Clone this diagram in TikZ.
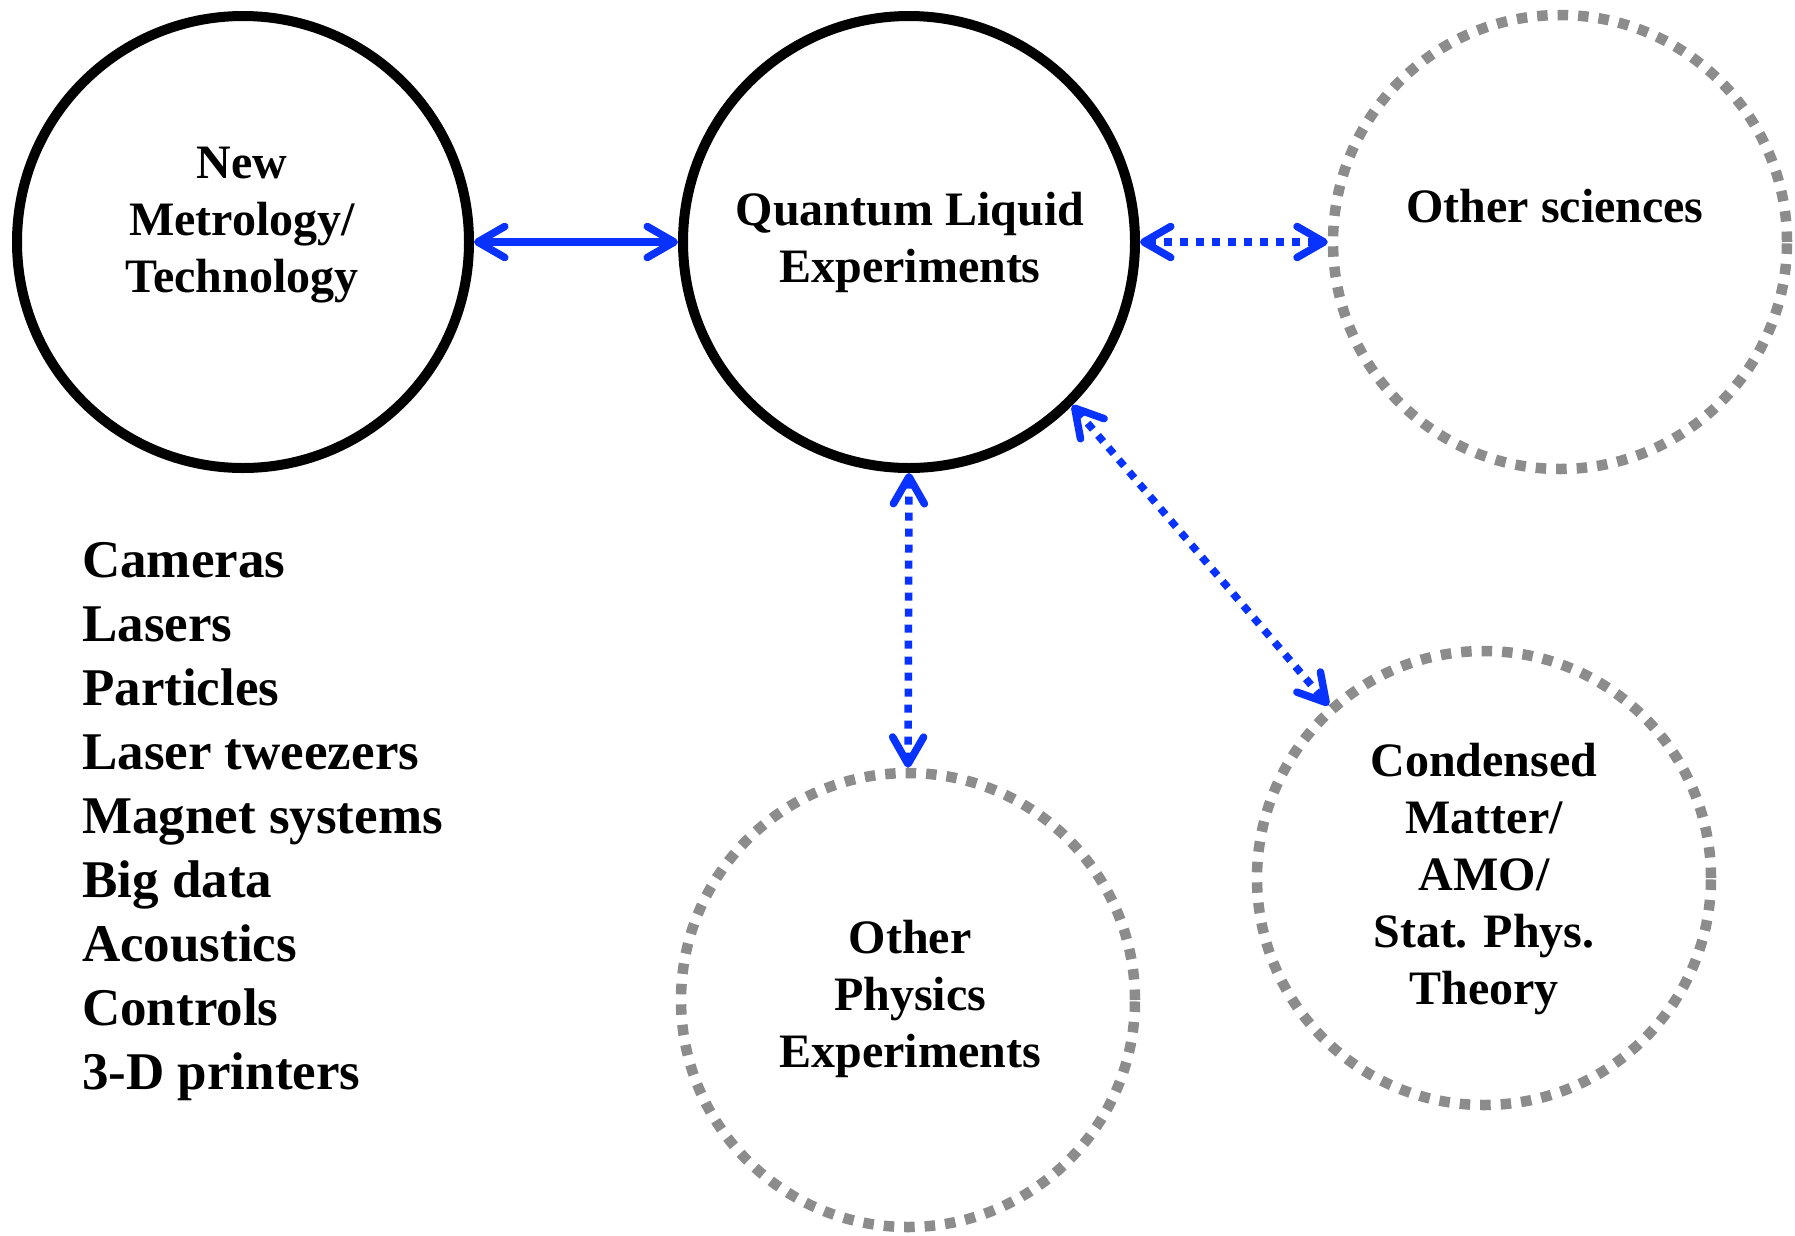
\documentclass[tikz,border=0pt]{standalone}
\usepackage{fontspec}
\setmainfont{Liberation Serif}
\usetikzlibrary{arrows.meta}
\definecolor{arrblue}{RGB}{8,50,255}
\definecolor{dotgray}{RGB}{140,140,140}
\begin{document}
\begin{tikzpicture}[x=1pt,y=-1pt,
  solidcirc/.style={circle,draw=black,line width=10pt,minimum size=452pt,inner sep=0pt},
  dotcirc/.style={circle,draw=dotgray,line width=10.5pt,dash pattern=on 10.5pt off 10pt,minimum size=454pt,inner sep=0pt},
  ctext/.style={font=\fontsize{48}{57}\selectfont\bfseries,align=center,inner sep=0pt},
  ltext/.style={font=\fontsize{53}{64}\selectfont\bfseries,anchor=base west,inner sep=0pt},
  barb/.tip={Straight Barb[length=27pt,width=31pt,line cap=round,line join=round]},
  link/.style={draw=arrblue,line width=7.5pt,barb-barb},
  dotlink/.style={link,dash pattern=on 8pt off 8pt},
]
\useasboundingbox (0,0) rectangle (1795,1235);

% circles
\node[solidcirc] (met) at (243,242) {};
\node[solidcirc] (qle) at (909,242) {};
\node[dotcirc] (sci) at (1560,242) {};
\node[dotcirc] (phy) at (908,1000) {};
\node[dotcirc] (cmt) at (1484,878) {};

% circle texts
\node[ctext] (tmet) at (242,225) {New\\Metrology/\\Technology};
\node[ctext] (tqle) at (910,242) {Quantum Liquid\\Experiments};
\node[ctext] (tsci) at (1555,206) {Other sciences};
\node[ctext] (tphy) at (910,999) {Other\\Physics\\Experiments};
\node[ctext] (tcmt) at (1484,879) {Condensed\\Matter/\\AMO/\\Stat. Phys.\\Theory};

% list
\foreach \t [count=\i] in {Cameras,Lasers,Particles,Laser tweezers,Magnet systems,Big data,Acoustics,Controls,3-D printers}
  \node[ltext] (item\i) at (82,{577+64*(\i-1)}) {\t};

% connectors
\draw[link] (met.east) -- (qle.west);
\draw[dotlink] (qle.east) -- (sci.west);
\draw[dotlink] (qle.south) -- (phy.north);
\draw[dotlink] (qle.-45) -- (cmt.132);
\end{tikzpicture}
\end{document}
